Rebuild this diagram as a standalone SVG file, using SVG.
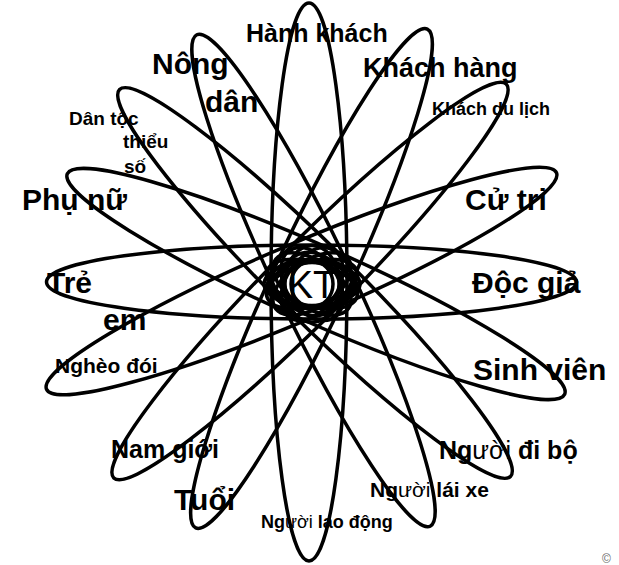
<svg xmlns="http://www.w3.org/2000/svg" width="619" height="565" viewBox="0 0 619 565">
<style>
.p{fill:none;stroke:#000;stroke-width:3.5}
.c{fill:none;stroke:#000;stroke-width:3.5;vector-effect:non-scaling-stroke}
text{font-family:"Liberation Sans",Arial,sans-serif;font-weight:bold;fill:#000}
.lt{font-weight:normal}
</style>
<rect width="619" height="565" fill="#fff"/>
<g id="petals">
<ellipse class="p" cx="309" cy="282" rx="38" ry="279"/>
<ellipse class="p" cx="311.5" cy="282" rx="265" ry="37"/>
<ellipse class="p" cx="313.5" cy="280.5" rx="272" ry="38" transform="rotate(64.6 313.5 280.5)"/>
<ellipse class="p" cx="311.5" cy="278.5" rx="275" ry="38" transform="rotate(-65.1 311.5 278.5)"/>
<ellipse class="p" cx="315" cy="283" rx="275" ry="38" transform="rotate(44.7 315 283)"/>
<ellipse class="p" cx="310" cy="281" rx="278" ry="38" transform="rotate(-45.1 310 281)"/>
<ellipse class="p" cx="316" cy="284" rx="272" ry="38" transform="rotate(23.9 316 284)"/>
<ellipse class="p" cx="301.5" cy="281" rx="277" ry="38" transform="rotate(-23 301.5 281)"/>
</g>
<g id="center">
<g transform="translate(312 284) scale(1 0.8)">
<ellipse class="c" rx="48" ry="27"/>
<ellipse class="c" rx="48" ry="27" transform="rotate(22.5)"/>
<ellipse class="c" rx="48" ry="27" transform="rotate(45)"/>
<ellipse class="c" rx="48" ry="27" transform="rotate(67.5)"/>
<ellipse class="c" rx="48" ry="27" transform="rotate(90)"/>
<ellipse class="c" rx="48" ry="27" transform="rotate(112.5)"/>
<ellipse class="c" rx="48" ry="27" transform="rotate(135)"/>
<ellipse class="c" rx="48" ry="27" transform="rotate(157.5)"/>
<ellipse class="c" rx="42" ry="30" transform="rotate(10)"/>
<ellipse class="c" rx="42" ry="30" transform="rotate(-10)"/>
<ellipse class="c" rx="40" ry="30" transform="rotate(80)"/>
</g>
<ellipse class="c" cx="312" cy="284" rx="21" ry="23"/>
<text x="312" y="298" text-anchor="middle" style="font-weight:normal;font-size:38px">KT</text>
</g>
<g id="n-hanh-khach"><text x="246" y="42" style="font-size:25px">Hành khách</text></g>
<g id="n-khach-hang"><text x="363" y="77" style="font-size:27px">Khách hàng</text></g>
<g id="n-khach-du-lich"><text x="432" y="115" style="font-size:18px">Khách du lịch</text></g>
<g id="n-cu-tri"><text x="465" y="210" style="font-size:30px">Cử tri</text></g>
<g id="n-doc-gia"><text x="472" y="293" style="font-size:30px">Độc giả</text></g>
<g id="n-sinh-vien"><text x="473" y="380" style="font-size:30px">Sinh viên</text></g>
<g id="n-nguoi-di-bo"><text x="439" y="459" style="font-size:25px">Ng<tspan class="lt">ười</tspan> đi bộ</text></g>
<g id="n-nguoi-lai-xe"><text x="370" y="497" style="font-size:21px">Ng<tspan class="lt">ười</tspan> lái xe</text></g>
<g id="n-nguoi-lao-dong"><text x="261" y="528" style="font-size:18px">Ng<tspan class="lt">ười</tspan> lao động</text></g>
<g id="n-tuoi"><text x="174" y="510" style="font-size:30px">Tuổi</text></g>
<g id="n-nam-gioi"><text x="111" y="458" style="font-size:25px">Nam giới</text></g>
<g id="n-ngheo-doi"><text x="55" y="373" style="font-size:21px">Nghèo đói</text></g>
<g id="n-tre-em"><text x="47" y="293" style="font-size:30px">Trẻ</text><text x="103" y="330" style="font-size:30px">em</text></g>
<g id="n-phu-nu"><text x="22" y="210" style="font-size:30px">Phụ nữ</text></g>
<g id="n-dan-toc"><text x="69" y="125" style="font-size:19px">Dân tộc</text><text x="123" y="148" style="font-size:19px">thiểu</text><text x="124" y="173" style="font-size:19px">số</text></g>
<g id="n-nong-dan"><text x="152" y="74" style="font-size:30px">Nông</text><text x="205" y="112" style="font-size:30px">dân</text></g>
<text x="602" y="563" style="font-weight:normal;font-size:12px;fill:#666">©</text>
</svg>
